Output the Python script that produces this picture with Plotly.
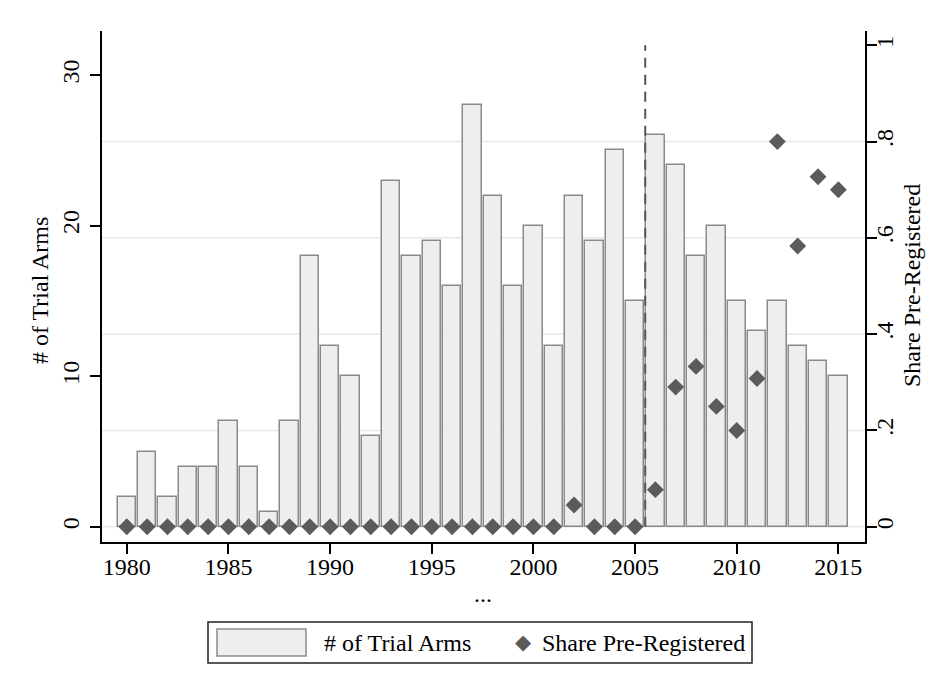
import plotly.graph_objects as go

years = list(range(1980, 2016))
trial_arms = [2, 5, 2, 4, 4, 7, 4, 1, 7, 18, 12, 10, 6, 23, 18, 19, 16, 28, 22, 16,
              20, 12, 22, 19, 25, 15, 26, 24, 18, 20, 15, 13, 15, 12, 11, 10]
share_prereg = [0, 0, 0, 0, 0, 0, 0, 0, 0, 0, 0, 0, 0, 0, 0, 0, 0, 0, 0, 0,
                0, 0, 0.045, 0, 0, 0, 0.077, 0.29, 0.333, 0.25, 0.2, 0.308, 0.8, 0.583, 0.727, 0.7]
left_ticks = [0, 10, 20, 30]
right_ticks = [0, 0.2, 0.4, 0.6, 0.8, 1]
right_ticktext = ["0", ".2", ".4", ".6", ".8", "1"]
xticks = [1980, 1985, 1990, 1995, 2000, 2005, 2010, 2015]
grid_vals = [0, 0.2, 0.4, 0.6, 0.8]
cutoff_year = 2005.5

# page body adds an 8px offset; figure coords are screen coords minus 8
OFF = 8
W, H = 948 - OFF, 696 - OFF
SL, SR, ST, SB = 102, 865, 31, 542   # plot area in screen pixels
FONT = "Liberation Serif"
FS = 24


def px(x):
    return (x - SL) / (SR - SL)


def py(y):
    return (SB - y) / (SB - ST)


fig = go.Figure()
fig.add_trace(go.Bar(
    x=years, y=trial_arms, width=0.9, name="# of Trial Arms",
    marker=dict(color="#eeeeee", line=dict(color="#8a8a8a", width=1.5)),
    yaxis="y", showlegend=False,
))
fig.add_trace(go.Scatter(
    x=years, y=share_prereg, mode="markers", name="Share Pre-Registered",
    marker=dict(symbol="diamond", size=13, color="#5b5b5b"),
    yaxis="y2", showlegend=False,
))

shapes = []
for g in grid_vals:
    shapes.append(dict(type="line", xref="paper", yref="y2", x0=0, x1=1, y0=g, y1=g,
                       line=dict(color="#e8e8e8", width=1.5), layer="below"))
shapes.append(dict(type="line", xref="x", yref="y2", x0=cutoff_year, x1=cutoff_year, y0=0, y1=1,
                   line=dict(color="#555555", width=2, dash="10px,7px"), layer="above"))
# legend box
shapes.append(dict(type="rect", xref="paper", yref="paper",
                   x0=px(208), x1=px(752), y0=py(622), y1=py(663),
                   line=dict(color="#222222", width=1.5), fillcolor="white"))
shapes.append(dict(type="rect", xref="paper", yref="paper",
                   x0=px(217), x1=px(306), y0=py(629), y1=py(656),
                   line=dict(color="#8a8a8a", width=1.5), fillcolor="#eeeeee"))

annotations = [
    dict(text="# of Trial Arms", xref="paper", yref="paper", x=px(322), y=py(643),
         xanchor="left", yanchor="middle", showarrow=False, font=dict(family=FONT, size=FS, color="black")),
    dict(text="◆", xref="paper", yref="paper", x=px(523), y=py(642),
         xanchor="center", yanchor="middle", showarrow=False, font=dict(family="DejaVu Sans", size=21, color="#5b5b5b")),
    dict(text="Share Pre-Registered", xref="paper", yref="paper", x=px(540), y=py(643),
         xanchor="left", yanchor="middle", showarrow=False, font=dict(family=FONT, size=FS, color="black")),
    # axis titles
    dict(text="# of Trial Arms", xref="paper", yref="paper", x=px(40), y=py(291), textangle=-90,
         xanchor="center", yanchor="middle", showarrow=False, font=dict(family=FONT, size=FS, color="black")),
    dict(text="Share Pre-Registered", xref="paper", yref="paper", x=px(912), y=py(286), textangle=-90,
         xanchor="center", yanchor="middle", showarrow=False, font=dict(family=FONT, size=FS, color="black")),
    dict(text="...", xref="paper", yref="paper", x=px(483), y=py(594),
         xanchor="center", yanchor="middle", showarrow=False, font=dict(family=FONT, size=FS, color="black")),
]

fig.update_layout(
    width=W, height=H,
    margin=dict(l=SL - OFF, r=W - (SR - OFF), t=ST - OFF, b=H - (SB - OFF), autoexpand=False),
    paper_bgcolor="white", plot_bgcolor="white",
    font=dict(family=FONT, size=FS, color="black"),
    showlegend=False,
    bargap=0,
    xaxis=dict(
        range=[1978.78, 2016.31], tickvals=xticks, ticks="outside", ticklen=10, tickwidth=1.5,
        tickcolor="black", showline=True, linecolor="black", linewidth=1.5, showgrid=False,
        zeroline=False, ticklabelstandoff=-8,
    ),
    yaxis=dict(
        range=[-1.01, 32.93], tickvals=left_ticks, tickangle=-90, ticks="outside", ticklen=10,
        tickwidth=1.5, tickcolor="black", showline=True, linecolor="black", linewidth=1.5,
        showgrid=False, zeroline=False, ticklabelstandoff=2,
    ),
    yaxis2=dict(
        range=[-0.0317, 1.0297], tickvals=right_ticks, ticktext=right_ticktext, tickangle=-90,
        overlaying="y", side="right", ticks="outside", ticklen=10, tickwidth=1.5, tickcolor="black",
        showline=True, linecolor="black", linewidth=1.5, showgrid=False, zeroline=False,
        ticklabelstandoff=-13,
    ),
    shapes=shapes,
    annotations=annotations,
)

fig.write_html("out.html")
